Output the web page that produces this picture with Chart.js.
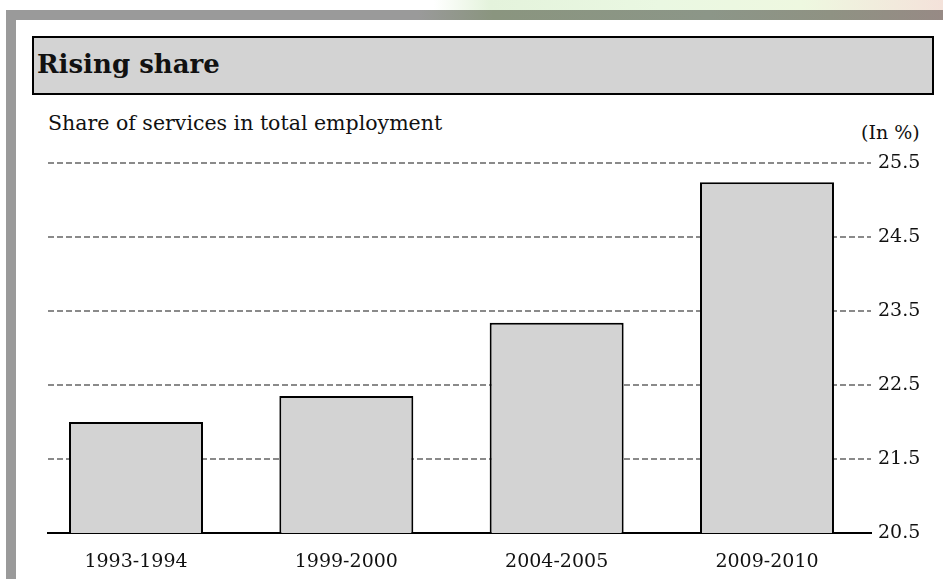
<!DOCTYPE html>
<html>
<head>
<meta charset="utf-8">
<script src="https://cdn.jsdelivr.net/npm/chart.js@4"></script>
<style>
  html, body { margin: 0; padding: 0; background: #fff; }
  body { width: 943px; height: 579px; position: relative; overflow: hidden; font-family: "DejaVu Serif", serif; color: #111; }
  .strip { position: absolute; left: 0; top: 0; width: 943px; height: 10px;
    background: linear-gradient(to right, #fff 0%, #fff 46%, #e4f3dc 52%, #eaf8e2 70%, #eef8e0 85%, #f4e2da 100%); }
  .band { position: absolute; left: 6px; top: 10px; width: 937px; height: 10px;
    background: linear-gradient(to right, #9a9a9a 0%, #9a9a9a 44%, #8a957f 52%, #8c9688 75%, #8f9283 88%, #978a85 100%); }
  .leftbar { position: absolute; left: 6px; top: 10px; width: 10px; height: 569px; background: #9a9a9a; }
  .titlebox { position: absolute; left: 32px; top: 36px; width: 898px; height: 55px;
    background: #d3d3d3; border: 2px solid #000; }
  .titlebox span { position: absolute; left: 3px; top: 11px; font-weight: bold; font-size: 26px; }
  .sub { position: absolute; left: 48px; top: 111px; font-size: 20.5px; }
  .unit { position: absolute; left: 861px; top: 121px; font-size: 19px; }
  #wrap { position: absolute; left: 16px; top: 140px; width: 927px; height: 439px; }
</style>
</head>
<body>
<div class="strip"></div>
<div class="band"></div>
<div class="leftbar"></div>
<div class="titlebox"><span>Rising share</span></div>
<div class="sub">Share of services in total employment</div>
<div class="unit">(In %)</div>
<div id="wrap"><canvas id="chart" width="927" height="439"></canvas></div>
<script>
// data
const periods = ['1993-1994', '1999-2000', '2004-2005', '2009-2010'];
const shares = [22.0, 22.35, 23.34, 25.24];
const yTicks = [20.5, 21.5, 22.5, 23.5, 24.5, 25.5];

const ctx = document.getElementById('chart').getContext('2d');
const tickFont = { family: 'DejaVu Serif', size: 19 };

new Chart(ctx, {
  type: 'bar',
  data: {
    datasets: [{
      data: shares.map((v, i) => ({ x: i, y: v })),
      backgroundColor: '#d3d3d3',
      borderColor: '#000',
      borderWidth: 2,
      borderSkipped: 'start',
      categoryPercentage: 1,
      barPercentage: 0.637
    }]
  },
  options: {
    responsive: false,
    animation: false,
    layout: { padding: { left: 32, top: 23, right: 0, bottom: 0 } },
    plugins: { legend: { display: false }, tooltip: { enabled: false } },
    scales: {
      x: {
        type: 'linear',
        offset: false,
        min: -0.4184,
        max: 3.4945,
        z: 1,
        afterBuildTicks: s => { s.ticks = periods.map((p, i) => ({ value: i })); },
        afterFit: s => { s.height = 46; s.paddingLeft = 0; s.paddingRight = 0; },
        grid: { display: false, drawTicks: false, offset: false },
        border: { display: true, color: '#000', width: 2 },
        ticks: {
          color: '#111',
          font: tickFont,
          padding: 18,
          maxRotation: 0,
          autoSkip: false,
          callback: v => periods[v]
        }
      },
      y: {
        position: 'right',
        min: 20.5,
        max: 25.5,
        afterBuildTicks: s => { s.ticks = yTicks.map(v => ({ value: v })); },
        afterFit: s => { s.width = 72; },
        grid: { color: '#8a8a8a', lineWidth: 2, drawTicks: false },
        border: { display: false, dash: [6, 3] },
        ticks: {
          color: '#111',
          font: tickFont,
          padding: 7,
          callback: v => v.toFixed(1)
        }
      }
    }
  }
});
</script>
</body>
</html>
